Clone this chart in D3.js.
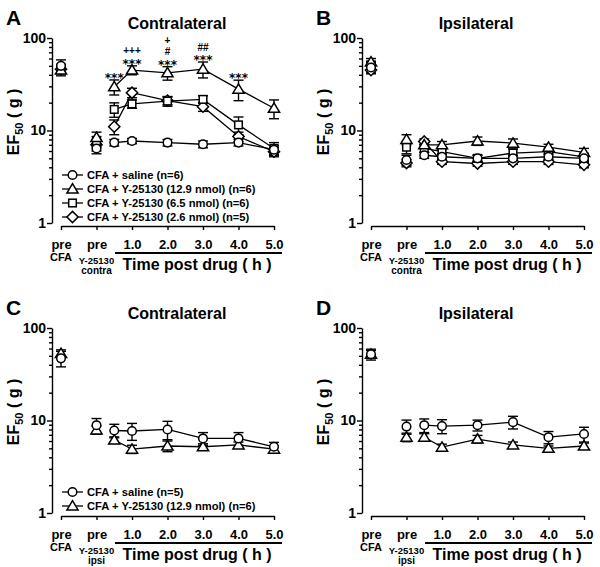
<!DOCTYPE html>
<html><head><meta charset="utf-8">
<script src="https://cdn.jsdelivr.net/npm/d3@7"></script>
<style>
body{margin:0;background:#fff}
text{font-family:"Liberation Sans",Arial,sans-serif;font-weight:bold;fill:#000}
</style>
</head><body>
<svg id="chart" width="600" height="567"></svg>
<script>
// ---------- data ----------
const hours = [-1, 0, 0.5, 1, 2, 3, 4, 5];
const xTickValues = [-1, 0, 1, 2, 3, 4, 5];
const xTickLabels = ["pre", "pre", "1.0", "2.0", "3.0", "4.0", "5.0"];
const yMajorTicks = [1, 10, 100];

// Panel A (contralateral)
const A_saline = [50, 6.4, 7.4, 7.7, 7.4, 7.1, 7.4, 6.2];
const A_saline_sem = [8, 0.8, 0.6, 0.5, 0.6, 0.6, 0.6, 0.7];
const A_y129 = [45, 8.4, 29.7, 45, 42, 46, 28, 17.4];
const A_y129_sem = [6, 1.2, 5.5, 5, 7, 9, 7, 4];
const A_y65 = [47, 7.6, 16.9, 19.4, 20.8, 21.7, 11.5, 6.4];
const A_y65_sem = [5, 1, 3, 2, 2.5, 2, 2.5, 1];
const A_y26 = [46, 7.0, 11, 25.6, 21, 18.1, 8.6, 5.9];
const A_y26_sem = [5, 1, 2, 3, 2, 2, 1, 0.7];

// Panel B (ipsilateral)
const B_saline = [48, 4.8, 5.4, 5.2, 5.0, 5.0, 5.2, 5.0];
const B_saline_sem = [6, 0.6, 0.4, 0.4, 0.4, 0.4, 0.4, 0.4];
const B_y129 = [55, 8.0, 7.0, 7.0, 7.7, 7.3, 6.6, 5.8];
const B_y129_sem = [5, 1, 0.6, 0.6, 0.8, 0.8, 0.5, 0.6];
const B_y65 = [51, 6.6, 6.4, 5.9, 5.0, 5.7, 5.9, 5.2];
const B_y65_sem = [5, 1, 0.6, 0.4, 0.4, 0.6, 0.4, 0.4];
const B_y26 = [45, 4.45, 7.6, 4.6, 4.4, 4.6, 4.6, 4.25];
const B_y26_sem = [4, 0.4, 0.5, 0.3, 0.3, 0.3, 0.3, 0.3];

// Panel C (contralateral)
const C_saline = [47, 8.9, 7.8, 7.7, 8.0, 6.4, 6.4, 5.2];
const C_saline_sem = [9, 1.6, 1.3, 1.6, 1.8, 1.0, 1.0, 0.6];
const C_y129 = [53, 7.9, 6.15, 4.9, 5.3, 5.2, 5.45, 4.9];
const C_y129_sem = [5, 0.8, 0.5, 0.5, 0.7, 0.4, 0.4, 0.4];

// Panel D (ipsilateral)
const D_saline = [52, 8.6, 8.9, 8.7, 8.9, 9.6, 6.6, 7.15];
const D_saline_sem = [7, 1.5, 1.5, 1.5, 1.2, 1.5, 1.0, 1.3];
const D_y129 = [52, 6.6, 6.6, 5.15, 6.3, 5.45, 5.0, 5.3];
const D_y129_sem = [5, 0.7, 0.6, 0.4, 0.6, 0.4, 0.3, 0.4];

// significance marks (panel A, above 12.9 nmol series)
const sigHours = [0.5, 1, 2, 3, 4];
const sigLevel1 = ["***", "***", "***", "***", "***"];
const sigLevel2 = ["", "+++", "#", "##", ""];
const sigLevel3 = ["", "", "+", "", ""];

const legendA = ["CFA + saline (n=6)", "CFA + Y-25130 (12.9 nmol) (n=6)", "CFA + Y-25130 (6.5 nmol) (n=6)", "CFA + Y-25130 (2.6 nmol) (n=5)"];
const legendC = ["CFA + saline (n=5)", "CFA + Y-25130 (12.9 nmol) (n=6)"];

// ---------- drawing ----------
const svg = d3.select("#chart");
const x = d3.scaleLinear().domain([-1, 5]).range([61, 274]);
const y = d3.scaleLog().domain([1, 100]).range([223, 38]);

function shape(g, sym, cx, cy) {
  let el;
  if (sym === "circle") el = g.append("circle").attr("cx", cx).attr("cy", cy).attr("r", 4.3);
  else if (sym === "triangle") el = g.append("path").attr("d", `M${cx},${cy-5.3}L${cx+5.6},${cy+4}L${cx-5.6},${cy+4}Z`);
  else if (sym === "square") el = g.append("rect").attr("x", cx-3.8).attr("y", cy-3.8).attr("width", 7.6).attr("height", 7.6);
  else el = g.append("path").attr("d", `M${cx},${cy-5.6}L${cx+5.6},${cy}L${cx},${cy+5.6}L${cx-5.6},${cy}Z`);
  el.attr("fill", "#fff").attr("stroke", "#000").attr("stroke-width", 1.5);
}

function panel(cfg) {
  const g = svg.append("g").attr("transform", `translate(${cfg.ox},${cfg.oy})`);
  g.append("text").attr("x", 6).attr("y", 25).attr("font-size", 21).text(cfg.letter);
  g.append("text").attr("x", cfg.titleX).attr("y", 29).attr("text-anchor", "middle").attr("font-size", 16).text(cfg.title);

  // y axis
  const minor = [];
  for (let d = 1; d < 100; d *= 10) for (let k = 2; k <= 9; k++) minor.push(d * k);
  const ya = g.append("g").attr("transform", "translate(52,0)")
    .call(d3.axisLeft(y).tickValues(yMajorTicks).tickSize(5).tickSizeOuter(0).tickPadding(1).tickFormat(d3.format("d")));
  ya.selectAll("text").attr("font-size", 14).style("font-family", '"Liberation Sans",Arial,sans-serif').style("font-weight", "bold");
  const ym = g.append("g").attr("transform", "translate(52,0)")
    .call(d3.axisLeft(y).tickValues(minor).tickSize(3).tickSizeOuter(0).tickFormat(""));
  ym.select(".domain").remove();
  g.selectAll(".tick line, .domain").attr("stroke-width", 1.4);

  // y label
  const yl = g.append("text").attr("transform", "translate(19,122) rotate(-90)").attr("text-anchor", "middle").attr("font-size", 16);
  yl.append("tspan").text("EF");
  yl.append("tspan").attr("font-size", 11).attr("dy", 4).text("50");
  yl.append("tspan").attr("dy", -4).text(" ( g )");

  // x axis
  const xa = g.append("g").attr("transform", "translate(0,226)")
    .call(d3.axisBottom(x).tickValues(xTickValues).tickSize(4).tickSizeOuter(0).tickPadding(10)
      .tickFormat((d, i) => xTickLabels[i]));
  xa.selectAll("text").attr("font-size", 13).style("font-family", '"Liberation Sans",Arial,sans-serif').style("font-weight", "bold");
  xa.selectAll(".tick line, .domain").attr("stroke-width", 1.4);

  g.append("line").attr("x1", 115).attr("x2", 282).attr("y1", 253).attr("y2", 253).attr("stroke", "#000").attr("stroke-width", 2);
  g.append("text").attr("x", 197).attr("y", 269.5).attr("text-anchor", "middle").attr("font-size", 16).text("Time post drug ( h )");
  g.append("text").attr("x", x(-1)).attr("y", 261).attr("text-anchor", "middle").attr("font-size", 11).text("CFA");
  g.append("text").attr("x", x(0)).attr("y", 263.5).attr("text-anchor", "middle").attr("font-size", 9.5).text("Y-25130");
  g.append("text").attr("x", x(0)).attr("y", 274).attr("text-anchor", "middle").attr("font-size", 10).text(cfg.side);

  // series lines (connect post-drug points)
  const line = d3.line().x(d => x(d[0])).y(d => y(d[1]));
  cfg.series.forEach(s => {
    const pts = hours.map((h, i) => [h, s.v[i]]).slice(2);
    g.append("path").attr("d", line(pts)).attr("fill", "none").attr("stroke", "#000").attr("stroke-width", 1.3);
  });
  // error bars
  cfg.series.forEach(s => {
    hours.forEach((h, i) => {
      const cx = x(h), lo = y(Math.max(s.v[i] - s.e[i], 1.01)), hi = y(s.v[i] + s.e[i]);
      g.append("line").attr("x1", cx).attr("x2", cx).attr("y1", lo).attr("y2", hi).attr("stroke", "#000").attr("stroke-width", 1.4);
      [lo, hi].forEach(yy => g.append("line").attr("x1", cx - 5).attr("x2", cx + 5).attr("y1", yy).attr("y2", yy).attr("stroke", "#000").attr("stroke-width", 1.4));
    });
  });
  // markers (draw last legend entry first)
  cfg.series.slice().reverse().forEach(s => {
    hours.forEach((h, i) => shape(g, s.sym, x(h), y(s.v[i])));
  });

  // legend
  cfg.legend.forEach((t, i) => {
    const ly = cfg.legendY + i * 14;
    g.append("line").attr("x1", 62).attr("x2", 83).attr("y1", ly).attr("y2", ly).attr("stroke", "#000").attr("stroke-width", 1.3);
    shape(g, cfg.series[i].sym, 72.5, ly);
    g.append("text").attr("x", 87).attr("y", ly + 4).attr("font-size", 11.2).text(t);
  });

  if (cfg.sig) {
    const s = cfg.series[1];
    sigHours.forEach((h, j) => {
      const i = hours.indexOf(h);
      const top = y(s.v[i] + s.e[i]);
      const cx = x(h);
      if (sigLevel1[j]) g.append("text").attr("x", cx).attr("y", top + 2).attr("text-anchor", "middle")
        .attr("font-size", 12).style("font-family", '"DejaVu Sans",sans-serif').text(sigLevel1[j]);
      if (sigLevel2[j]) g.append("text").attr("x", cx).attr("y", top - 11.5).attr("text-anchor", "middle").attr("font-size", 10).text(sigLevel2[j]);
      if (sigLevel3[j]) g.append("text").attr("x", cx).attr("y", top - 22.8).attr("text-anchor", "middle").attr("font-size", 10).text(sigLevel3[j]);
    });
  }
}

panel({letter: "A", title: "Contralateral", titleX: 177, ox: 0, oy: 0, side: "contra", sig: true,
  legend: legendA, legendY: 175,
  series: [
    {sym: "circle", v: A_saline, e: A_saline_sem},
    {sym: "triangle", v: A_y129, e: A_y129_sem},
    {sym: "square", v: A_y65, e: A_y65_sem},
    {sym: "diamond", v: A_y26, e: A_y26_sem}]});
panel({letter: "B", title: "Ipsilateral", titleX: 166, ox: 310, oy: 0, side: "contra", sig: false,
  legend: [], legendY: 175,
  series: [
    {sym: "circle", v: B_saline, e: B_saline_sem},
    {sym: "triangle", v: B_y129, e: B_y129_sem},
    {sym: "square", v: B_y65, e: B_y65_sem},
    {sym: "diamond", v: B_y26, e: B_y26_sem}]});
panel({letter: "C", title: "Contralateral", titleX: 177, ox: 0, oy: 290, side: "ipsi", sig: false,
  legend: legendC, legendY: 202,
  series: [
    {sym: "circle", v: C_saline, e: C_saline_sem},
    {sym: "triangle", v: C_y129, e: C_y129_sem}]});
panel({letter: "D", title: "Ipsilateral", titleX: 166, ox: 310, oy: 290, side: "ipsi", sig: false,
  legend: [], legendY: 202,
  series: [
    {sym: "circle", v: D_saline, e: D_saline_sem},
    {sym: "triangle", v: D_y129, e: D_y129_sem}]});
</script>
</body></html>
